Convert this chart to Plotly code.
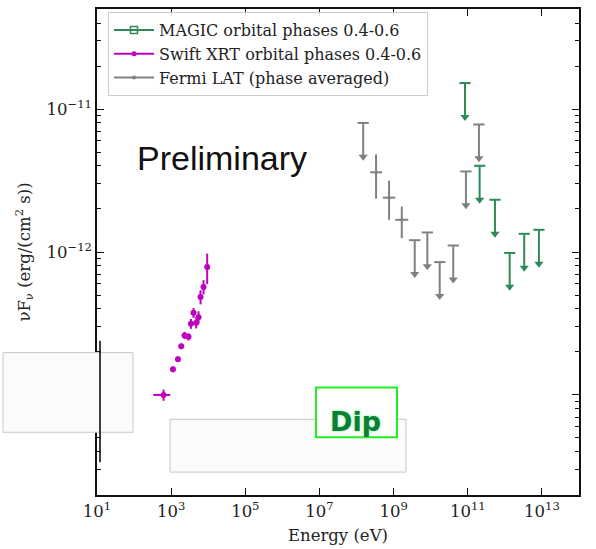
import plotly.graph_objects as go

# ---- Swift XRT, orbital phases 0.4-0.6 ----
swift_energy = [624, 1117, 1524, 1871, 2296, 2938, 3412, 4009, 4742, 5470, 6194, 7464, 9376]
swift_flux = [1.00e-13, 1.51e-13, 1.78e-13, 2.19e-13, 2.61e-13, 2.55e-13, 3.15e-13,
              3.76e-13, 3.20e-13, 3.50e-13, 4.85e-13, 5.70e-13, 7.85e-13]
swift_flux_err = [0.09e-13, 0.07e-13, 0.08e-13, 0.10e-13, 0.15e-13, 0.15e-13, 0.25e-13,
                  0.30e-13, 0.28e-13, 0.35e-13, 0.55e-13, 0.65e-13, 1.9e-13]
swift_e_lo = [295, 40, 50, 60, 70, 90, 100, 110, 130, 150, 160, 180, 200]
swift_e_hi = [320, 40, 50, 60, 70, 90, 100, 110, 130, 150, 160, 180, 200]

# ---- Fermi LAT (phase averaged) ----
fermi_energy = [3.36e8, 7.53e8, 1.66e9]
fermi_flux = [3.61e-12, 2.40e-12, 1.68e-12]
fermi_flux_hi = [1.21e-12, 0.75e-12, 0.40e-12]
fermi_flux_lo = [1.25e-12, 0.72e-12, 0.43e-12]
fermi_e_lo = [1.04e8, 2.44e8, 5.5e8]
fermi_e_hi = [1.52e8, 3.6e8, 8.3e8]
fermi_ul_energy = [1.51e8, 3.71e9, 8.11e9, 1.75e10, 4.06e10, 8.93e10, 2.0e11]
fermi_ul_flux = [8.0e-12, 1.21e-12, 1.37e-12, 8.5e-13, 1.11e-12, 3.66e-12, 7.8e-12]

# ---- MAGIC, orbital phases 0.4-0.6 (upper limits) ----
magic_ul_energy = [8.41e10, 2.09e11, 5.41e11, 1.35e12, 3.33e12, 8.30e12]
magic_ul_flux = [1.52e-11, 4.01e-12, 2.32e-12, 9.85e-13, 1.34e-12, 1.43e-12]

# ---- axis ticks ----
x_tick_exp = [1, 3, 5, 7, 9, 11, 13]
y_tick_exp = [-13, -12, -11]

GREEN = "#2e8b57"
MAGENTA = "#bf00bf"
GRAY = "#808080"
SERIF = "DejaVu Serif"

W, H = 596, 549
L, R, T, B = 97, 17, 7, 54
PW, PH = W - L - R, H - T - B


def px_x(p):
    return (p - L) / PW


def px_y(p):
    return 1 - (p - T) / PH


fig = go.Figure()


def add_upper_limits(x, y, color):
    drop = 10 ** -0.237
    tips = [v * drop for v in y]
    fig.add_trace(go.Scatter(
        x=x, y=y, mode="markers", showlegend=False, hoverinfo="skip",
        marker=dict(symbol="line-ew", size=8, color=color, line=dict(color=color, width=2)),
        error_y=dict(type="data", symmetric=False, array=[0] * len(y),
                     arrayminus=[v - t for v, t in zip(y, tips)],
                     color=color, thickness=2, width=0),
    ))
    fig.add_trace(go.Scatter(
        x=x, y=tips, mode="markers", showlegend=False, hoverinfo="skip",
        marker=dict(symbol="triangle-down", size=8, color=color),
    ))


# Swift XRT points
fig.add_trace(go.Scatter(
    x=swift_energy, y=swift_flux, mode="markers", showlegend=False,
    marker=dict(symbol="circle", size=6, color=MAGENTA),
    error_y=dict(type="data", array=swift_flux_err, color=MAGENTA, thickness=2, width=0),
    error_x=dict(type="data", symmetric=False, array=swift_e_hi, arrayminus=swift_e_lo,
                 color=MAGENTA, thickness=2, width=0),
))

# Fermi detections and upper limits
fig.add_trace(go.Scatter(
    x=fermi_energy, y=fermi_flux, mode="markers", showlegend=False,
    marker=dict(symbol="circle", size=3, color=GRAY),
    error_y=dict(type="data", symmetric=False, array=fermi_flux_hi, arrayminus=fermi_flux_lo,
                 color=GRAY, thickness=2, width=0),
    error_x=dict(type="data", symmetric=False, array=fermi_e_hi, arrayminus=fermi_e_lo,
                 color=GRAY, thickness=2, width=0),
))
add_upper_limits(fermi_ul_energy, fermi_ul_flux, GRAY)

# MAGIC upper limits
add_upper_limits(magic_ul_energy, magic_ul_flux, GREEN)

# legend entries
fig.add_trace(go.Scatter(x=[None], y=[None], mode="lines+markers", name="MAGIC orbital phases 0.4-0.6",
                         line=dict(color=GREEN, width=2),
                         marker=dict(symbol="square-open", size=7, color=GREEN, line=dict(width=1.5))))
fig.add_trace(go.Scatter(x=[None], y=[None], mode="lines+markers", name="Swift XRT orbital phases 0.4-0.6",
                         line=dict(color=MAGENTA, width=2), marker=dict(symbol="circle", size=5, color=MAGENTA)))
fig.add_trace(go.Scatter(x=[None], y=[None], mode="lines+markers", name="Fermi LAT (phase averaged)",
                         line=dict(color=GRAY, width=2), marker=dict(symbol="circle", size=4, color=GRAY)))

y_minor = [m * 10.0 ** e for e in range(-14, -10) for m in range(2, 10)]

axis_common = dict(
    type="log", showgrid=False, zeroline=False, showline=True, linecolor="#111111", linewidth=1.5,
    mirror="ticks", ticks="inside", tickcolor="#111111", tickwidth=1.3, ticklen=7,
    tickfont=dict(family=SERIF, size=16.5, color="#222222"),
)

fig.update_xaxes(
    **axis_common, range=[1, 14],
    tickvals=[10.0 ** e for e in x_tick_exp],
    ticktext=[f"10<sup>{e}</sup>" for e in x_tick_exp],
    title=dict(text="Energy (eV)", font=dict(family=SERIF, size=16.5, color="#222222"), standoff=10),
)
fig.update_yaxes(
    **axis_common, range=[-13.7, -10.3],
    tickvals=[10.0 ** e for e in y_tick_exp],
    ticktext=[f"10<sup>\u2212{-e}</sup>" for e in y_tick_exp],
    minor=dict(ticks="inside", ticklen=4, tickwidth=1.2, tickcolor="#111111", tickvals=y_minor),
    title=dict(text="\u03bdF<sub>\u03bd</sub> (erg/(cm<sup>2</sup> s))",
               font=dict(family=SERIF, size=16.5, color="#222222"), standoff=12),
)

shapes = [
    # light boxes
    dict(type="rect", xref="paper", yref="paper", layer="above",
         x0=px_x(3), x1=px_x(133), y0=px_y(432), y1=px_y(352),
         fillcolor="#fbfbfb", line=dict(color="#c8c8c8", width=1)),
    dict(type="line", xref="paper", yref="paper", layer="above",
         x0=px_x(100), x1=px_x(100), y0=px_y(462), y1=px_y(340),
         line=dict(color="#000000", width=1.5)),
    dict(type="rect", xref="paper", yref="paper", layer="above",
         x0=px_x(170), x1=px_x(406), y0=px_y(472), y1=px_y(419),
         fillcolor="#fbfbfb", line=dict(color="#c8c8c8", width=1)),
    dict(type="rect", xref="paper", yref="paper", layer="above",
         x0=px_x(316), x1=px_x(397), y0=px_y(437), y1=px_y(387),
         fillcolor="#ffffff", line=dict(color="#22ee22", width=2)),
]

annotations = [
    dict(text="Preliminary", xref="paper", yref="paper", x=px_x(222), y=px_y(157),
         xanchor="center", yanchor="middle", showarrow=False,
         font=dict(family="Liberation Sans", size=34, color="#111111")),
    dict(text="<b>Dip</b>", xref="paper", yref="paper", x=px_x(355), y=px_y(421),
         xanchor="center", yanchor="middle", showarrow=False,
         font=dict(family="DejaVu Sans", size=27, color="#0a7f35",
                   shadow="0px 0px 3px #6fef7f")),
]

fig.update_layout(
    width=W, height=H, margin=dict(l=L, r=R, t=T, b=B),
    paper_bgcolor="white", plot_bgcolor="white",
    shapes=shapes, annotations=annotations,
    legend=dict(x=px_x(108), y=px_y(10), xanchor="left", yanchor="top",
                bgcolor="rgba(255,255,255,0.85)", bordercolor="#cccccc", borderwidth=1,
                font=dict(family=SERIF, size=16, color="#222222"), itemwidth=40,
                tracegroupgap=0),
    showlegend=True,
)

fig.write_html("out.html")
